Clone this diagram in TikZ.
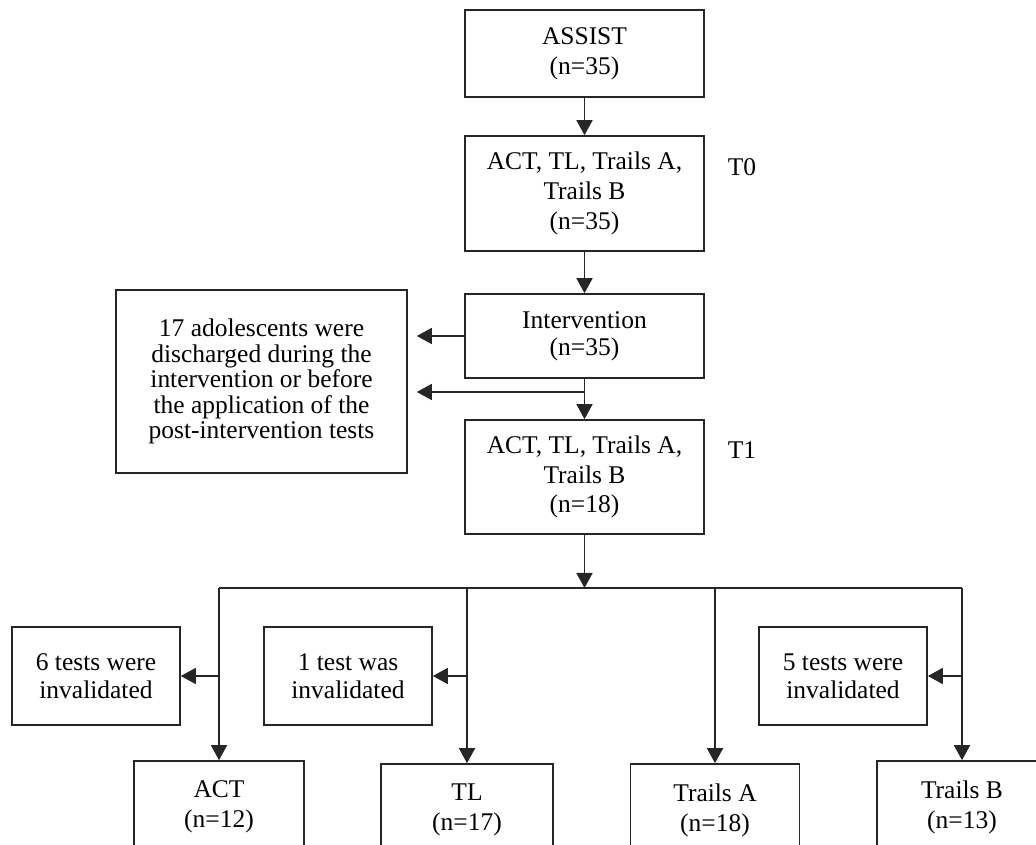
\documentclass[tikz,border=0pt]{standalone}
\usepackage{fontspec}
\setmainfont{Liberation Serif}
\usetikzlibrary{arrows.meta}

\begin{document}
\begin{tikzpicture}[
  box/.style={draw=black!85,line width=0.9pt,align=center,inner sep=0pt,font=\fontsize{14.5}{17}\selectfont},
  link/.style={black!85,line width=0.9pt,-{Triangle[length=0.30cm,width=0.32cm]}}]
\useasboundingbox (0,0) rectangle (20.720,-16.900);
\clip (0,0) rectangle (20.720,-16.900);
% main column
\node[box,minimum width=4.780cm,minimum height=1.740cm] (assist) at (11.690,-1.070) {ASSIST\\(n=35)};
\node[box,minimum width=4.780cm,minimum height=2.300cm] (pre) at (11.690,-3.870) {ACT, TL, Trails A,\\Trails B\\(n=35)};
\node[font=\fontsize{14.5}{17}\selectfont] (tzero) at (14.840,-3.340) {T0};
\node[box,minimum width=4.780cm,minimum height=1.680cm,font=\fontsize{14.5}{15.4}\selectfont] (interv) at (11.690,-6.720) {Intervention\\(n=35)};
\node[box,minimum width=5.820cm,minimum height=3.660cm,font=\fontsize{14.5}{14.5}\selectfont] (dropped) at (5.230,-7.630) {17 adolescents were\\discharged during the\\intervention or before\\the application of the\\post-intervention tests};
\node[box,minimum width=4.780cm,minimum height=2.280cm] (post) at (11.690,-9.540) {ACT, TL, Trails A,\\Trails B\\(n=18)};
\node[font=\fontsize{14.5}{17}\selectfont] (tone) at (14.840,-9.000) {T1};
% invalidated tests
\node[box,minimum width=3.360cm,minimum height=1.960cm,font=\fontsize{14.5}{16}\selectfont] (inv6) at (1.920,-13.520) {6 tests were\\invalidated};
\node[box,minimum width=3.360cm,minimum height=1.960cm,font=\fontsize{14.5}{16}\selectfont] (inv1) at (6.960,-13.520) {1 test was\\invalidated};
\node[box,minimum width=3.360cm,minimum height=1.960cm,font=\fontsize{14.5}{16}\selectfont] (inv5) at (16.860,-13.520) {5 tests were\\invalidated};
% final samples
\node[box,minimum width=3.400cm,minimum height=1.840cm] (act) at (4.380,-16.140) {ACT\\(n=12)};
\node[box,minimum width=3.440cm,minimum height=1.840cm] (tl) at (9.340,-16.200) {TL\\(n=17)};
\node[box,minimum width=3.380cm,minimum height=1.840cm] (tra) at (14.300,-16.200) {Trails A\\(n=18)};
\node[box,minimum width=3.400cm,minimum height=1.840cm] (trb) at (19.240,-16.140) {Trails B\\(n=13)};
% connectors
\coordinate (split) at (11.690,-7.840);
\coordinate (bus) at (11.690,-11.760);
\draw[link] (assist) -- (pre);
\draw[link] (pre) -- (interv);
\draw[link] (interv) -- (post);
\draw[link,shorten >=0.18cm] (interv.west) -- (interv.west -| dropped.east);
\draw[link,shorten >=0.18cm] (split) -- (split -| dropped.east);
\draw[link] (post) -- (bus);
\draw[black!85,line width=0.9pt] (act.north |- bus) -- (trb.north |- bus);
\draw[link] (act.north |- bus) -- (act);
\draw[link] (tl.north |- bus) -- (tl);
\draw[link] (tra.north |- bus) -- (tra);
\draw[link] (trb.north |- bus) -- (trb);
\draw[link] (act.north |- inv6.east) -- (inv6);
\draw[link] (tl.north |- inv1.east) -- (inv1);
\draw[link] (trb.north |- inv5.east) -- (inv5);
\end{tikzpicture}
\end{document}
